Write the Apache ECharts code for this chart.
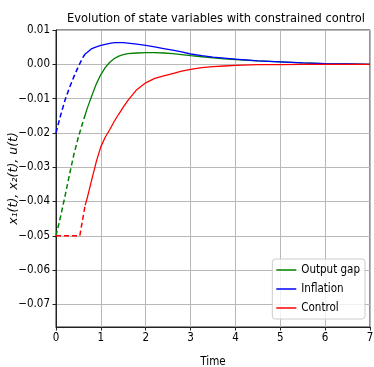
<!DOCTYPE html>
<html><head><meta charset="utf-8">
<script src="https://cdn.jsdelivr.net/npm/echarts@6/dist/echarts.min.js"></script>
<style>html,body{margin:0;padding:0;background:#fff}#c{width:374px;height:367px}</style>
</head><body><div id="c"></div>
<script>
// Constrained period (dashed)
const tDash = [0, 0.1, 0.2, 0.3, 0.4, 0.5, 0.6, 0.65];
const outputGapDash = [-0.0500, -0.0445, -0.0385, -0.0322, -0.0262, -0.0212, -0.0168, -0.0148];
const inflationDash = [-0.0200, -0.0150, -0.0105, -0.0068, -0.0036, -0.0006, 0.0020, 0.0030];
const tControlDash = [0, 0.53, 0.65];
const controlDash = [-0.0500, -0.0500, -0.0411];
// Unconstrained period (solid)
const tSolid = [0.65, 0.7, 0.8, 0.9, 1.0, 1.1, 1.2, 1.3, 1.4, 1.5, 1.6, 1.8, 2.0, 2.2, 2.4, 2.6, 2.8, 3.0, 3.25, 3.5, 3.75, 4.0, 4.5, 5.0, 5.5, 6.0, 6.5, 7.0];
const outputGap = [-0.0148, -0.0127, -0.0091, -0.0057, -0.0030, -0.0009, 0.0006, 0.0017, 0.0024, 0.0028, 0.0031, 0.0033, 0.0034, 0.0034, 0.0033, 0.0031, 0.0028, 0.0025, 0.0022, 0.0019, 0.0016, 0.0014, 0.0010, 0.0007, 0.0004, 0.0002, 0.0001, 0.0000];
const inflation = [0.0030, 0.0035, 0.0046, 0.0051, 0.0055, 0.0058, 0.0061, 0.0063, 0.0063, 0.0063, 0.0062, 0.0059, 0.0055, 0.0051, 0.0046, 0.0041, 0.0036, 0.0030, 0.0025, 0.0021, 0.0018, 0.0015, 0.0010, 0.0007, 0.0004, 0.0002, 0.0001, 0.0000];
const control = [-0.0411, -0.0388, -0.0335, -0.0283, -0.0240, -0.0212, -0.0190, -0.0166, -0.0145, -0.0125, -0.0106, -0.0074, -0.0054, -0.0041, -0.0034, -0.0027, -0.0020, -0.0015, -0.0010, -0.0007, -0.0005, -0.0003, -0.0001, -0.0001, 0.0000, 0.0000, 0.0000, 0.0000];
const yTicks = [-0.07, -0.06, -0.05, -0.04, -0.03, -0.02, -0.01, 0.00, 0.01];
const names = ['Output gap', 'Inflation', 'Control'];
const colors = ['#008000', '#0000ff', '#ff0000'];

const pair = (ts, vs) => ts.map((t, i) => [t, vs[i]]);
const FONT = "'DejaVu Sans Condensed', 'DejaVu Sans', sans-serif";
const chart = echarts.init(document.getElementById('c'), null, {renderer: 'canvas'});
const mk = (name, data, color, dashed) => ({
  name: name, type: 'line', data: data, showSymbol: false, symbol: 'none', smooth: false,
  lineStyle: {color: color, width: dashed ? 1.5 : 1.3, type: dashed ? [5, 3] : 'solid'},
  itemStyle: {color: color}, animation: false, z: 3
});
chart.setOption({
  animation: false,
  title: {text: 'Evolution of state variables with constrained control', left: 211, top: 7, textAlign: 'center',
    textStyle: {fontFamily: FONT, fontSize: 12.7, fontWeight: 'normal', color: '#000'}},
  grid: {left: 56, right: 4, top: 30, bottom: 40, outerBoundsMode: 'none', containLabel: false,
    show: true, borderColor: '#222', borderWidth: 1, backgroundColor: 'transparent'},
  legend: {data: names, orient: 'vertical', right: 9, bottom: 48, icon: 'rect', itemWidth: 20, itemHeight: 1.5,
    itemGap: 7, padding: [5, 5, 5, 4], backgroundColor: 'rgba(255,255,255,0.8)', borderColor: '#ccc', borderWidth: 1, borderRadius: 3,
    textStyle: {fontFamily: FONT, fontSize: 11.5, color: '#000'}},
  xAxis: {type: 'value', min: 0, max: 7, interval: 1, name: 'Time', nameLocation: 'middle', nameGap: 29, nameMoveOverlap: false,
    nameTextStyle: {fontFamily: FONT, fontSize: 11.5, color: '#000'},
    axisLine: {show: true, onZero: false, lineStyle: {color: '#222', width: 1}},
    axisTick: {show: true, length: 3.5, lineStyle: {color: '#222'}},
    axisLabel: {fontFamily: FONT, fontSize: 11.5, color: '#000', margin: 5},
    splitLine: {show: true, lineStyle: {color: '#b8b8b8', width: 1}}},
  yAxis: {type: 'value', min: -0.0766, max: 0.01, name: 'x\u2081(t), x\u2082(t), u(t)', nameLocation: 'middle', nameGap: 36, nameMoveOverlap: false,
    nameTextStyle: {fontFamily: "'DejaVu Sans', sans-serif", fontSize: 12.5, fontStyle: 'italic', color: '#000'},
    axisLine: {show: true, onZero: false, lineStyle: {color: '#222', width: 1}},
    axisTick: {show: true, length: 3.5, customValues: yTicks, lineStyle: {color: '#222'}},
    axisLabel: {fontFamily: FONT, fontSize: 11.5, color: '#000', margin: 6, customValues: yTicks,
      formatter: v => (v < -1e-9 ? '\u2212' : '') + Math.abs(v).toFixed(2)},
    splitLine: {show: true, lineStyle: {color: '#b8b8b8', width: 1}}},
  series: [
    mk('Output gap', pair(tSolid, outputGap), colors[0], false),
    mk('Inflation', pair(tSolid, inflation), colors[1], false),
    mk('Control', pair(tSolid, control), colors[2], false),
    mk('Output gap (constrained)', pair(tDash, outputGapDash), colors[0], true),
    mk('Inflation (constrained)', pair(tDash, inflationDash), colors[1], true),
    mk('Control (constrained)', pair(tControlDash, controlDash), colors[2], true)
  ]
});
</script></body></html>
